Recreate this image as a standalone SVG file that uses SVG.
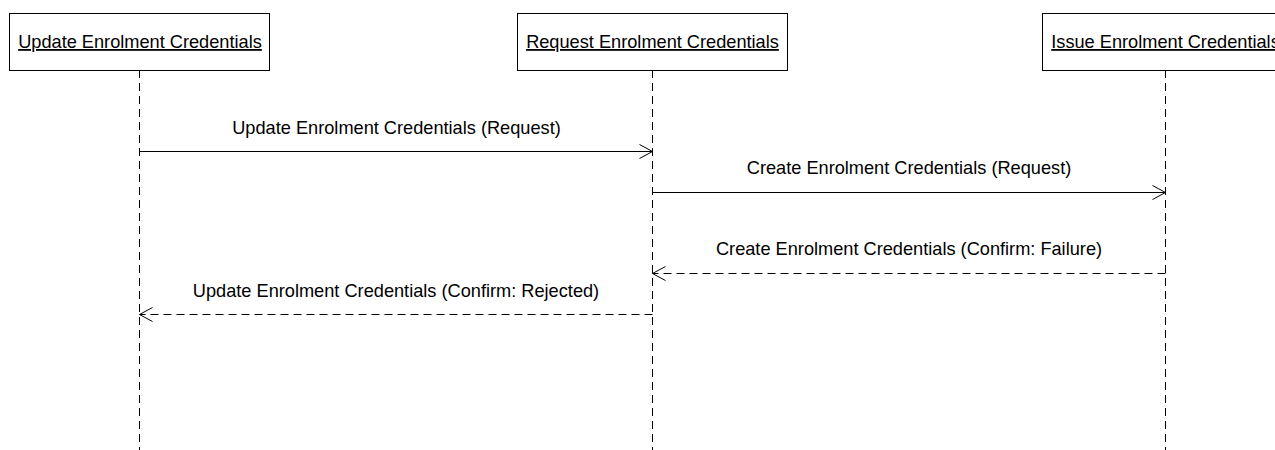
<svg xmlns="http://www.w3.org/2000/svg" width="1275" height="450" viewBox="0 0 1275 450">
<style>
.box{fill:#fff;stroke:#000;stroke-width:1}
.t{font-family:"Liberation Sans",Arial,sans-serif;font-size:18.2px;fill:#000;text-anchor:middle}
.u{text-decoration:underline}
.life{stroke:#000;stroke-width:1;stroke-dasharray:8,5;fill:none}
.msg{stroke:#000;stroke-width:1;fill:none}
.dash{stroke-dasharray:8,5}
</style>
<defs>
<marker id="open" markerWidth="16" markerHeight="16" refX="14" refY="8" orient="auto" markerUnits="userSpaceOnUse">
<path d="M1,1 L14,8 L1,15" fill="none" stroke="#000" stroke-width="1"/>
</marker>
</defs>
<rect width="1275" height="450" fill="#fff"/>
<g id="lifelines">
<line class="life" x1="139.5" y1="70" x2="139.5" y2="450"/>
<line class="life" x1="652.5" y1="70" x2="652.5" y2="450"/>
<line class="life" x1="1165.5" y1="70" x2="1165.5" y2="450"/>
</g>
<g id="node-update">
<rect class="box" x="9.5" y="13.5" width="260" height="57"/>
<text class="t u" x="140" y="48">Update Enrolment Credentials</text>
</g>
<g id="node-request">
<rect class="box" x="517.5" y="13.5" width="270" height="57"/>
<text class="t u" x="652.5" y="48">Request Enrolment Credentials</text>
</g>
<g id="node-issue">
<rect class="box" x="1042.5" y="13.5" width="246" height="57"/>
<text class="t u" x="1165.5" y="48">Issue Enrolment Credentials</text>
</g>
<g id="connectors">
<line class="msg" x1="139.5" y1="151.5" x2="652.5" y2="151.5" marker-end="url(#open)"/>
<text class="t" x="396.5" y="134">Update Enrolment Credentials (Request)</text>
<line class="msg" x1="652.5" y1="192.5" x2="1165.5" y2="192.5" marker-end="url(#open)"/>
<text class="t" x="909" y="174">Create Enrolment Credentials (Request)</text>
<line class="msg dash" x1="1165.5" y1="273.5" x2="652.5" y2="273.5" marker-end="url(#open)"/>
<text class="t" x="909" y="255">Create Enrolment Credentials (Confirm: Failure)</text>
<line class="msg dash" x1="652.5" y1="314.5" x2="139.5" y2="314.5" marker-end="url(#open)"/>
<text class="t" x="396" y="297">Update Enrolment Credentials (Confirm: Rejected)</text>
</g>
</svg>
